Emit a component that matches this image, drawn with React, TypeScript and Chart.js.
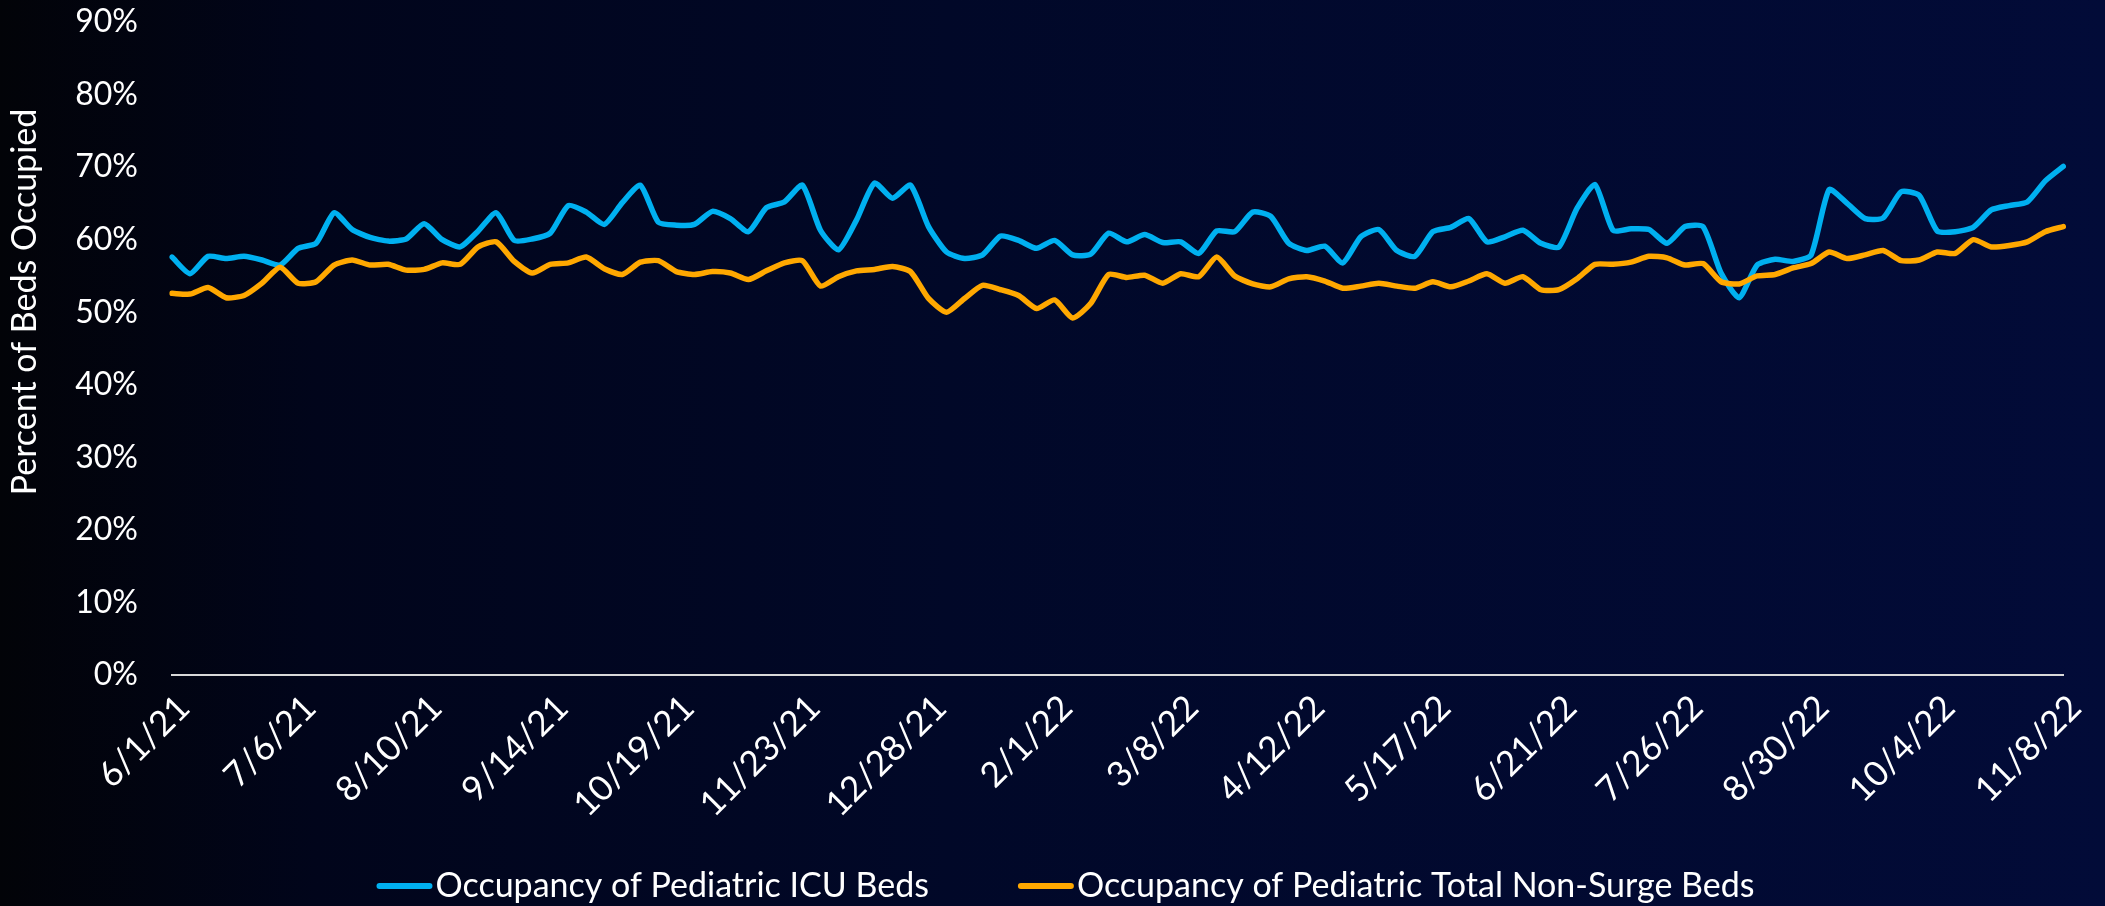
import React, { useEffect, useRef } from "react";
import { Chart, registerables } from "chart.js";

Chart.register(...registerables);

// Data sampled every 5 days, starting 6/1/21 and ending 11/8/22
const stepDays = 5;
const labelEvery = 7; // one tick label every 35 days

const icuValues = [
  57.6, 55.3, 57.7, 57.4, 57.7, 57.2, 56.5,
  58.8, 59.5, 63.7, 61.4, 60.3, 59.8, 60.1,
  62.2, 60.0, 59.0, 61.2, 63.7, 59.9, 60.1,
  60.9, 64.7, 63.8, 62.1, 65.1, 67.5, 62.4,
  62.0, 62.1, 63.9, 62.9, 61.1, 64.4, 65.2,
  67.5, 61.3, 58.6, 62.7, 67.8, 65.7, 67.5,
  61.8, 58.3, 57.4, 57.9, 60.5, 59.9, 58.8,
  59.9, 57.9, 58.0, 60.9, 59.7, 60.7, 59.6,
  59.7, 58.1, 61.2, 61.1, 63.8, 63.2, 59.5,
  58.5, 59.1, 56.8, 60.4, 61.4, 58.5, 57.7,
  61.1, 61.7, 62.9, 59.7, 60.4, 61.3, 59.5,
  59.0, 64.3, 67.6, 61.3, 61.5, 61.4, 59.5,
  61.8, 61.8, 55.4, 52.0, 56.5, 57.3, 57.0,
  57.9, 66.9, 65.0, 62.9, 63.0, 66.6, 66.1,
  61.2, 61.1, 61.7, 64.1, 64.7, 65.2, 68.1,
  70.1,
];

const totalValues = [
  52.6, 52.5, 53.4, 52.0, 52.3, 54.0, 56.2,
  54.0, 54.2, 56.5, 57.2, 56.5, 56.6, 55.8,
  55.9, 56.8, 56.6, 59.0, 59.7, 57.0, 55.4,
  56.6, 56.8, 57.6, 56.0, 55.2, 56.9, 57.1,
  55.6, 55.2, 55.6, 55.4, 54.5, 55.7, 56.8,
  57.1, 53.6, 54.9, 55.7, 55.9, 56.3, 55.6,
  51.9, 50.0, 51.9, 53.7, 53.1, 52.3, 50.5,
  51.7, 49.2, 51.2, 55.2, 54.8, 55.1, 54.0,
  55.3, 54.9, 57.6, 55.0, 53.9, 53.5, 54.6,
  54.9, 54.3, 53.3, 53.6, 54.0, 53.6, 53.3,
  54.2, 53.5, 54.3, 55.3, 54.0, 54.9, 53.1,
  53.1, 54.6, 56.6, 56.6, 56.9, 57.7, 57.5,
  56.5, 56.7, 54.2, 53.9, 55.0, 55.2, 56.1,
  56.7, 58.3, 57.4, 57.9, 58.5, 57.1, 57.2,
  58.3, 58.1, 60.0, 59.0, 59.2, 59.7, 61.1,
  61.8,
];

const seriesNames = [
  "Occupancy of Pediatric ICU Beds",
  "Occupancy of Pediatric Total Non-Surge Beds",
];
const seriesColors = ["#00b0f0", "#ffa800"];
const yAxisTitle = "Percent of Beds Occupied";

function buildDates(n: number): string[] {
  const out: string[] = [];
  for (let i = 0; i < n; i++) {
    const d = new Date(2021, 5, 1 + i * stepDays);
    out.push(`${d.getMonth() + 1}/${d.getDate()}/${String(d.getFullYear()).slice(2)}`);
  }
  return out;
}

const dateLabels = buildDates(icuValues.length);

const FONT = "Lato, 'Open Sans', sans-serif";

const decorPlugin = {
  id: "decor",
  afterDraw(chart: any) {
    const ctx = chart.ctx as CanvasRenderingContext2D;
    ctx.save();
    // Y axis title
    ctx.font = `34px ${FONT}`;
    ctx.fillStyle = "#ffffff";
    ctx.textAlign = "center";
    ctx.textBaseline = "middle";
    ctx.translate(25, 302);
    ctx.rotate(-Math.PI / 2);
    ctx.fillText(yAxisTitle, 0, 0);
    ctx.restore();

    // Legend
    ctx.save();
    ctx.font = `34px ${FONT}`;
    ctx.textBaseline = "middle";
    ctx.textAlign = "left";
    const lineLen = 56;
    const gap = 3;
    const itemGap = 89;
    const widths = seriesNames.map((n) => ctx.measureText(n).width);
    const total =
      widths.reduce((a, b) => a + b, 0) +
      seriesNames.length * (lineLen + gap) +
      itemGap * (seriesNames.length - 1);
    let x = chart.width / 2 + 13 - total / 2;
    const y = 886;
    seriesNames.forEach((name, i) => {
      ctx.strokeStyle = seriesColors[i];
      ctx.lineWidth = 6;
      ctx.lineCap = "round";
      ctx.beginPath();
      ctx.moveTo(x + 3, y);
      ctx.lineTo(x + lineLen - 3, y);
      ctx.stroke();
      ctx.fillStyle = "#ffffff";
      ctx.fillText(name, x + lineLen + gap, y);
      x += lineLen + gap + widths[i] + itemGap;
    });
    ctx.restore();
  },
};

export default function App() {
  const canvasRef = useRef<HTMLCanvasElement | null>(null);

  useEffect(() => {
    document.body.style.margin = "0";
    const canvas = canvasRef.current;
    if (!canvas) return;
    const chart = new Chart(canvas, {
      type: "line",
      data: {
        labels: dateLabels,
        datasets: [
          {
            label: seriesNames[0],
            data: icuValues,
            borderColor: seriesColors[0],
            backgroundColor: seriesColors[0],
            borderWidth: 5.5,
            pointRadius: 0,
            tension: 0.2,
            borderCapStyle: "round",
            borderJoinStyle: "round",
            order: 1,
          },
          {
            label: seriesNames[1],
            data: totalValues,
            borderColor: seriesColors[1],
            backgroundColor: seriesColors[1],
            borderWidth: 5.5,
            pointRadius: 0,
            tension: 0.2,
            borderCapStyle: "round",
            borderJoinStyle: "round",
            order: 0,
          },
        ],
      },
      options: {
        animation: false,
        responsive: false,
        maintainAspectRatio: false,
        layout: { padding: { top: 22, right: 22, left: 0, bottom: 0 } },
        plugins: {
          legend: { display: false },
          tooltip: { enabled: false },
        },
        scales: {
          x: {
            type: "category",
            offset: false,
            grid: { display: false, drawTicks: false },
            border: { display: true, color: "#d9d9d9", width: 2 },
            ticks: {
              autoSkip: false,
              maxRotation: 45,
              minRotation: 45,
              padding: 12,
              labelOffset: 12,
              color: "#ffffff",
              font: { family: FONT, size: 35 },
              callback: (_v: any, i: number) => (i % labelEvery === 0 ? dateLabels[i] : null),
            },
            afterFit: (s: any) => {
              s.height = 231;
            },
          },
          y: {
            min: 0,
            max: 90,
            grid: { display: false, drawTicks: false },
            border: { display: false },
            ticks: {
              stepSize: 10,
              padding: 34,
              color: "#ffffff",
              font: { family: FONT, size: 32 },
              callback: (v: any) => `${v}%`,
            },
            afterFit: (s: any) => {
              s.width = 172;
              s.paddingTop = 0;
              s.paddingBottom = 0;
            },
          },
        },
      },
      plugins: [decorPlugin],
    });
    return () => chart.destroy();
  }, []);

  return (
    <div
      style={{
        width: 2105,
        height: 906,
        background:
          "linear-gradient(90deg, #020308 0%, #01051b 15%, #010828 45%, #020b38 100%)",
      }}
    >
      <canvas
        ref={canvasRef}
        width={2105}
        height={906}
        style={{ display: "block", width: 2105, height: 906 }}
      />
    </div>
  );
}
